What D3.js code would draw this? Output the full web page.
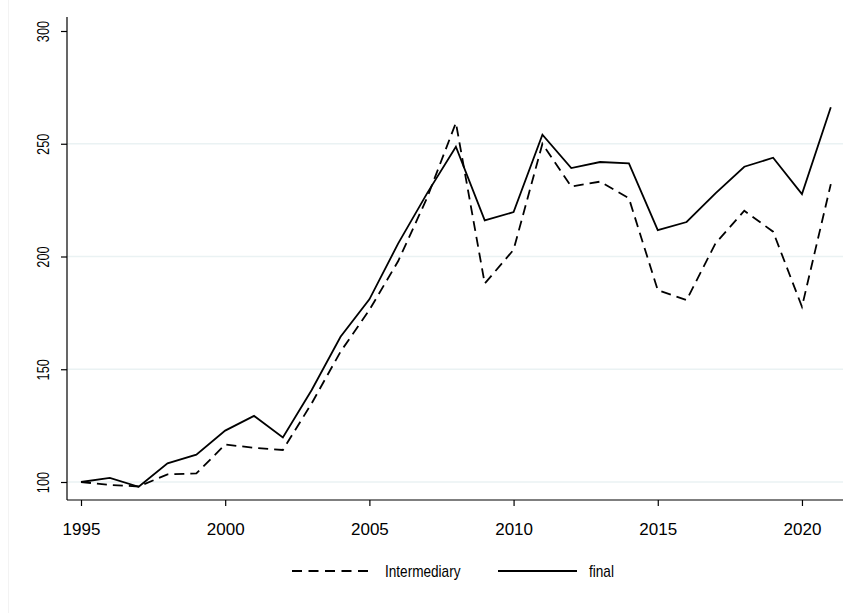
<!DOCTYPE html>
<html><head><meta charset="utf-8">
<script src="https://cdn.jsdelivr.net/npm/d3@7"></script>
<style>body{margin:0;background:#fff}</style>
</head><body>
<svg id="c" width="854" height="613"></svg>
<script>
const years = d3.range(1995, 2022);
const intermediary = [100, 98.7, 98.0, 103.4, 103.8, 116.6, 115.2, 114.2, 134.9, 157.8, 176.3, 198, 226, 259.3, 188, 203, 250, 231, 233.2, 225.8, 185.1, 180.7, 205.8, 220.3, 211, 177.7, 232.1];
const finalV = [100, 101.8, 97.9, 108.3, 112.1, 122.8, 129.3, 119.8, 140.8, 164.4, 181, 205.8, 228, 248.7, 216, 219.7, 254, 239.2, 241.9, 241.3, 211.7, 215.3, 228, 239.8, 243.8, 227.7, 266.2];
const xTicks = [1995, 2000, 2005, 2010, 2015, 2020];
const yTicks = [100, 150, 200, 250, 300];
const gridValues = [100, 150, 200, 250];
const seriesNames = ["Intermediary", "final"];

(function () {
const svg = d3.select("#c");
const font = "'Liberation Sans',Arial,sans-serif";
const x = d3.scaleLinear().domain([1995, 2021]).range([81, 830.8]);
const y = d3.scaleLinear().domain([100, 300]).range([482, 31]);
const pLeft = 67, pBottom = 500, pRight = 843, pTop = 17;

// faint outer frame line
svg.append("line").attr("x1", 8.5).attr("x2", 8.5).attr("y1", 0).attr("y2", 613)
  .attr("stroke", "#f3f3f3").attr("stroke-width", 1);

// grid
svg.append("g").selectAll("line").data(gridValues).join("line")
  .attr("x1", pLeft).attr("x2", pRight)
  .attr("y1", d => y(d)).attr("y2", d => y(d))
  .attr("stroke", "#eaf2f3").attr("stroke-width", 1.5);

// axes
const yAxis = svg.append("g").attr("transform", `translate(${pLeft},0)`)
  .call(d3.axisLeft(y).tickValues(yTicks).tickSize(6).tickPadding(5));
yAxis.select(".domain").remove();
yAxis.append("line").attr("x1", 0).attr("x2", 0).attr("y1", pTop).attr("y2", pBottom).attr("stroke", "#000").attr("stroke-width", 1.2);
yAxis.selectAll(".tick line").attr("stroke-width", 1.2);
yAxis.selectAll(".tick text")
  .attr("font-family", font).attr("font-size", 16).attr("fill", "#000")
  .attr("text-anchor", "middle")
  .attr("x", 0).attr("y", 0).attr("dy", "0.35em")
  .attr("transform", "translate(-24,0) rotate(-90) scale(0.8,1)");

const xAxis = svg.append("g").attr("transform", `translate(0,${pBottom})`)
  .call(d3.axisBottom(x).tickValues(xTicks).tickFormat(d3.format("d")).tickSize(6).tickPadding(5));
xAxis.select(".domain").remove();
xAxis.append("line").attr("x1", pLeft).attr("x2", pRight).attr("y1", 0).attr("y2", 0).attr("stroke", "#000").attr("stroke-width", 1.2);
xAxis.selectAll(".tick line").attr("stroke-width", 1.2);
xAxis.selectAll(".tick text").attr("font-family", font).attr("font-size", 17).attr("fill", "#000")
  .attr("y", 35).attr("dy", 0);

// lines
const line = d3.line().x((d, i) => x(years[i])).y(d => y(d));
svg.append("path").datum(intermediary).attr("d", line)
  .attr("fill", "none").attr("stroke", "#000").attr("stroke-width", 1.8)
  .attr("stroke-dasharray", "10,6");
svg.append("path").datum(finalV).attr("d", line)
  .attr("fill", "none").attr("stroke", "#000").attr("stroke-width", 1.8);

// legend
const lg = svg.append("g");
lg.append("line").attr("x1", 292).attr("x2", 372).attr("y1", 571).attr("y2", 571)
  .attr("stroke", "#000").attr("stroke-width", 1.8).attr("stroke-dasharray", "10,6.5");
lg.append("text").attr("transform", "translate(385,571) scale(0.85,1)").attr("dy", "0.36em").text(seriesNames[0])
  .attr("font-family", font).attr("font-size", 16);
lg.append("line").attr("x1", 498).attr("x2", 577).attr("y1", 571).attr("y2", 571)
  .attr("stroke", "#000").attr("stroke-width", 1.8);
lg.append("text").attr("transform", "translate(589,571) scale(0.85,1)").attr("dy", "0.36em").text(seriesNames[1])
  .attr("font-family", font).attr("font-size", 16);
})();
</script>
</body></html>
